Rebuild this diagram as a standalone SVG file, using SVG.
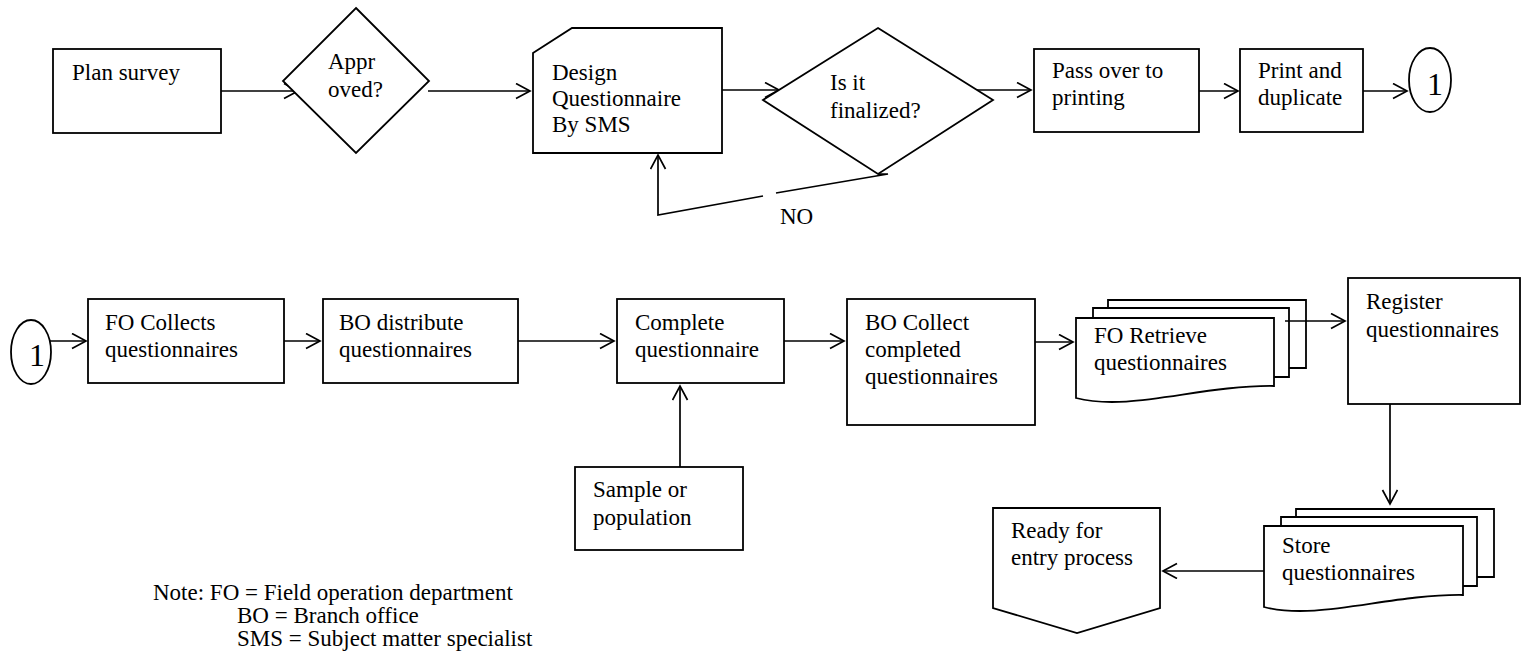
<svg xmlns="http://www.w3.org/2000/svg" width="1522" height="662" viewBox="0 0 1522 662">
<style>
.s{fill:#fff;stroke:#000;stroke-width:1.8}
.n{fill:none;stroke:#000;stroke-width:1.8}
.c{fill:none;stroke:#000;stroke-width:1.7}
text{font-family:"Liberation Serif","Times New Roman",serif;font-size:23px;fill:#000}
.big{font-size:32px}
</style>
<defs>
<marker id="a" markerUnits="userSpaceOnUse" markerWidth="18" markerHeight="18" refX="15" refY="8" orient="auto">
<path d="M1,0.5 L15,8 L1,15.5" fill="none" stroke="#000" stroke-width="1.7"/>
</marker>
</defs>
<rect width="1522" height="662" fill="#fff"/>
<g id="connectors">
<path class="c" d="M221,91 H298" marker-end="url(#a)"/>
<path class="c" d="M428,91 H530" marker-end="url(#a)"/>
<path class="c" d="M722,90 H779" marker-end="url(#a)"/>
<path class="c" d="M975,90 H1031" marker-end="url(#a)"/>
<path class="c" d="M1199,91 H1238" marker-end="url(#a)"/>
<path class="c" d="M1363,91 H1407" marker-end="url(#a)"/>
<path class="c" d="M878,174 H888 L776,193"/>
<path class="c" d="M763,196 L658,215 V155" marker-end="url(#a)"/>
<path class="c" d="M50,341 H86" marker-end="url(#a)"/>
<path class="c" d="M284,341 H320" marker-end="url(#a)"/>
<path class="c" d="M518,341 H614" marker-end="url(#a)"/>
<path class="c" d="M784,341 H844" marker-end="url(#a)"/>
<path class="c" d="M680,467 V386" marker-end="url(#a)"/>
<path class="c" d="M1035,342 H1073" marker-end="url(#a)"/>
<path class="c" d="M1390,404 V504" marker-end="url(#a)"/>
<path class="c" d="M1264,571 H1163" marker-end="url(#a)"/>
<text x="780" y="224">NO</text>
</g>
<g id="plan-survey">
<rect class="s" x="53" y="49" width="168" height="84"/>
<text x="72" y="80">Plan survey</text>
</g>
<g id="approved">
<polygon class="s" points="356,8 429,81 356,153 283,81"/>
<text x="328" y="69">Appr</text>
<text x="328" y="97">oved?</text>
</g>
<g id="design">
<path class="s" d="M533,53 L572,28 H722 V153 H533 Z"/>
<text x="552" y="80">Design</text>
<text x="552" y="106">Questionnaire</text>
<text x="552" y="132">By SMS</text>
</g>
<g id="finalized">
<polygon class="s" points="878,28 993,100 878,174 763,100"/>
<text x="830" y="90">Is it</text>
<text x="830" y="118">finalized?</text>
</g>
<g id="pass-over">
<rect class="s" x="1034" y="49" width="165" height="83"/>
<text x="1052" y="78">Pass over to</text>
<text x="1052" y="105">printing</text>
</g>
<g id="print">
<rect class="s" x="1240" y="49" width="123" height="83"/>
<text x="1258" y="78">Print and</text>
<text x="1258" y="105">duplicate</text>
</g>
<g id="connector-1-top">
<ellipse class="s" cx="1430" cy="80" rx="21" ry="32"/>
<text class="big" x="1435" y="95" text-anchor="middle">1</text>
</g>
<g id="connector-1-bottom">
<ellipse class="s" cx="31" cy="352" rx="20" ry="32"/>
<text class="big" x="37" y="366" text-anchor="middle">1</text>
</g>
<g id="fo-collects">
<rect class="s" x="88" y="299" width="196" height="84"/>
<text x="105" y="330">FO Collects</text>
<text x="105" y="357">questionnaires</text>
</g>
<g id="bo-distribute">
<rect class="s" x="323" y="299" width="195" height="84"/>
<text x="339" y="330">BO distribute</text>
<text x="339" y="357">questionnaires</text>
</g>
<g id="complete">
<rect class="s" x="617" y="299" width="167" height="84"/>
<text x="635" y="330">Complete</text>
<text x="635" y="357">questionnaire</text>
</g>
<g id="sample">
<rect class="s" x="575" y="467" width="168" height="83"/>
<text x="593" y="497">Sample or</text>
<text x="593" y="525">population</text>
</g>
<g id="bo-collect">
<rect class="s" x="847" y="299" width="188" height="126"/>
<text x="865" y="330">BO Collect</text>
<text x="865" y="357">completed</text>
<text x="865" y="384">questionnaires</text>
</g>
<g id="fo-retrieve">
<path class="n" d="M1108,308 V300 H1306 V368 H1289"/>
<path class="n" d="M1093,318 V308 H1289 V377 H1274"/>
<path class="s" d="M1076,318 H1274 V386 C1200,385 1130,412 1076,398 Z"/>
<text x="1094" y="343">FO Retrieve</text>
<text x="1094" y="370">questionnaires</text>
</g>
<path class="c" d="M1285,321 H1345" marker-end="url(#a)"/>
<g id="register">
<rect class="s" x="1348" y="278" width="172" height="126"/>
<text x="1366" y="309">Register</text>
<text x="1366" y="337">questionnaires</text>
</g>
<g id="store">
<path class="n" d="M1296,517 V509 H1494 V577 H1477"/>
<path class="n" d="M1281,526 V517 H1477 V586 H1463"/>
<path class="s" d="M1264,526 H1463 V595 C1389,594 1318,621 1264,607 Z"/>
<text x="1282" y="553">Store</text>
<text x="1282" y="580">questionnaires</text>
</g>
<g id="ready">
<polygon class="s" points="993,508 1160,508 1160,608 1077,633 993,608"/>
<text x="1011" y="538">Ready for</text>
<text x="1011" y="565">entry process</text>
</g>
<g id="note">
<text x="153" y="600">Note: FO = Field operation department</text>
<text x="237" y="623">BO = Branch office</text>
<text x="237" y="646">SMS = Subject matter specialist</text>
</g>
</svg>
